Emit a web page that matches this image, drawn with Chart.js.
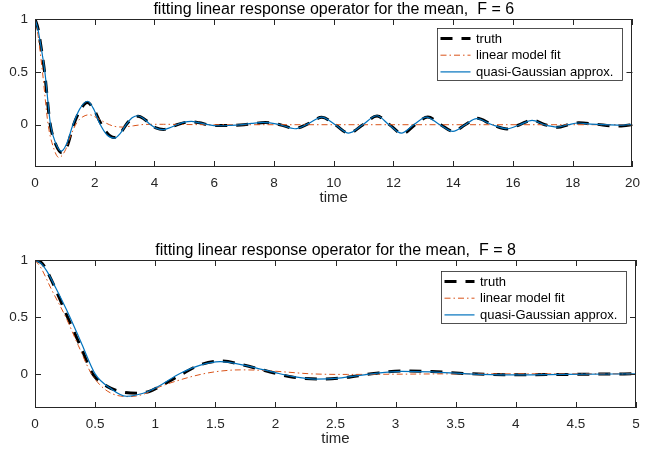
<!DOCTYPE html>
<html lang="en">
<head>
  <meta charset="UTF-8" />
  <title>Fitting linear response operator for the mean</title>
  <script src="https://cdn.jsdelivr.net/npm/chart.js"></script>
  <style>
    body {
      margin: 0;
      background: #fff;
    }
    .panel {
      position: absolute;
      left: 0;
      width: 648px;
    }
    #top { top: 0; height: 225px; }
    #bottom { top: 228px; height: 227px; }
  </style>
</head>
<body>
  <div class="panel" id="top"><canvas id="chartTop"></canvas></div>
  <div class="panel" id="bottom"><canvas id="chartBottom"></canvas></div>

  <script>
    // series names
    const seriesNames = ["truth", "linear model fit", "quasi-Gaussian approx."];

    // F = 6 panel, [time, value]
    const f6Truth = [[0,1],[0.1,0.91],[0.2,0.74],[0.32,0.5],[0.5,0.02],[0.7,-0.19],[0.9,-0.265],[1.08,-0.2],[1.28,-0.01],
      [1.5,0.13],[1.75,0.21],[1.98,0.14],[2.17,0.03],[2.42,-0.08],[2.65,-0.12],[2.85,-0.085],[3.05,0],[3.25,0.06],
      [3.45,0.08],[3.65,0.055],[3.87,0.005],[4.05,-0.03],[4.3,-0.045],[4.5,-0.03],[4.75,0],[5.0,0.02],[5.2,0.028],
      [5.5,0.018],[5.8,0],[6.2,-0.008],[6.6,-0.006],[7.0,0],[7.3,0.01],[7.7,0.02],[8.2,0],[8.7,-0.035],[9.15,0.01],
      [9.6,0.07],[10.05,0],[10.5,-0.08],[10.98,0],[11.45,0.082],[11.87,0],[12.3,-0.085],[12.72,0],[13.15,0.072],
      [13.58,0],[14.0,-0.063],[14.4,0],[14.8,0.06],[15.3,0],[15.8,-0.04],[16.22,0],[16.65,0.045],[17.07,0],
      [17.5,-0.025],[17.85,0],[18.2,0.018],[18.8,0.004],[19.4,-0.012],[19.7,-0.01],[20,0]];
    const f6Linear = [[0,1],[0.1,0.85],[0.25,0.5],[0.44,0],[0.6,-0.2],[0.8,-0.31],[1.0,-0.25],[1.2,-0.1],[1.4,0.02],
      [1.6,0.075],[1.82,0.094],[2.1,0.06],[2.4,0.012],[2.65,-0.015],[2.93,-0.022],[3.3,-0.01],[3.7,0.003],
      [4.3,0.004],[5,0.002],[6,0],[20,0]];
    const f6Quasi = [[0,1],[0.1,0.9],[0.2,0.74],[0.33,0.5],[0.52,0],[0.7,-0.18],[0.88,-0.25],[1.06,-0.18],[1.27,0],
      [1.5,0.15],[1.76,0.222],[1.98,0.14],[2.15,0.02],[2.42,-0.1],[2.67,-0.126],[2.86,-0.08],[3.05,0],[3.25,0.065],
      [3.44,0.085],[3.65,0.055],[3.87,0],[4.07,-0.035],[4.29,-0.047],[4.5,-0.03],[4.75,0],[5.0,0.024],[5.23,0.031],
      [5.5,0.018],[5.8,0],[6.1,-0.01],[6.5,-0.007],[6.85,-0.002],[7.25,0.012],[7.63,0.022],[8.2,0],[8.7,-0.038],
      [9.15,0.01],[9.6,0.072],[10.05,0],[10.5,-0.079],[10.97,0],[11.44,0.085],[11.85,0],[12.26,-0.079],[12.68,0],
      [13.1,0.072],[13.55,0],[13.99,-0.063],[14.4,0],[14.78,0.057],[15.3,0],[15.82,-0.038],[16.23,0],[16.64,0.041],
      [17.05,0],[17.47,-0.022],[17.85,0],[18.18,0.016],[18.6,0.006],[19.0,0],[19.5,-0.003],[20,0]];
    const f6XTicks = [0, 2, 4, 6, 8, 10, 12, 14, 16, 18, 20];
    const f6YTicks = [0, 0.5, 1];

    // F = 8 panel, [time, value]
    const f8Truth = [[0,1],[0.06,0.97],[0.125,0.85],[0.27,0.5],[0.38,0.24],[0.48,0],[0.6,-0.11],[0.71,-0.155],
      [0.85,-0.17],[0.95,-0.155],[1.04,-0.11],[1.21,-0.01],[1.37,0.078],[1.55,0.113],[1.73,0.078],[2.0,0.005],
      [2.15,-0.03],[2.35,-0.046],[2.55,-0.036],[2.8,0],[3.05,0.025],[3.3,0.02],[3.6,0.002],[3.9,-0.008],
      [4.3,-0.006],[4.7,-0.002],[5,0]];
    const f8Linear = [[0,1],[0.05,0.93],[0.133,0.75],[0.255,0.5],[0.36,0.25],[0.47,0],[0.6,-0.15],[0.78,-0.2],
      [0.9,-0.18],[1.01,-0.125],[1.21,-0.052],[1.4,0],[1.55,0.025],[1.71,0.035],[1.9,0.03],[2.1,0.015],[2.3,0],
      [2.6,-0.005],[3.0,-0.003],[3.5,0],[5,0]];
    const f8Quasi = [[0,1],[0.05,0.97],[0.1,0.9],[0.17,0.76],[0.29,0.5],[0.39,0.26],[0.5,0],[0.625,-0.125],
      [0.76,-0.197],[0.9,-0.17],[1.01,-0.12],[1.21,0.006],[1.37,0.075],[1.54,0.107],[1.79,0.064],[2.0,0.01],
      [2.15,-0.025],[2.33,-0.046],[2.55,-0.035],[2.8,0],[3.05,0.022],[3.3,0.017],[3.6,0],[3.95,-0.009],
      [4.4,-0.004],[5,0]];
    const f8XTicks = [0, 0.5, 1, 1.5, 2, 2.5, 3, 3.5, 4, 4.5, 5];
    const f8YTicks = [0, 0.5, 1];

    const FONT = "'Liberation Sans', Arial, Helvetica, sans-serif";
    const INK = "#262626";

    const toPoints = arr => arr.map(p => ({ x: p[0], y: p[1] }));

    // box + inward ticks on all four sides, matlab style
    const frameTicks = {
      id: "frameTicks",
      afterDatasetsDraw(chart) {
        const { ctx, chartArea: a, scales: { x, y } } = chart;
        ctx.save();
        ctx.strokeStyle = INK;
        ctx.lineWidth = 1;
        ctx.beginPath();
        x.ticks.forEach(t => {
          const px = Math.round(x.getPixelForValue(t.value)) + 0.5;
          ctx.moveTo(px, a.top); ctx.lineTo(px, a.top + 6);
          ctx.moveTo(px, a.bottom); ctx.lineTo(px, a.bottom - 6);
        });
        y.ticks.forEach(t => {
          const py = Math.round(y.getPixelForValue(t.value)) + 0.5;
          ctx.moveTo(a.left, py); ctx.lineTo(a.left + 6, py);
          ctx.moveTo(a.right, py); ctx.lineTo(a.right - 6, py);
        });
        ctx.stroke();
        ctx.strokeRect(Math.round(a.left) + 0.5, Math.round(a.top) + 0.5,
          Math.round(a.width) - 1, Math.round(a.height) - 1);
        ctx.restore();
      },
      afterDraw(chart, args, opts) {
        const { ctx, chartArea: a } = chart;
        ctx.save();
        // title
        ctx.fillStyle = "#000";
        ctx.font = "16px " + FONT;
        ctx.textAlign = "center";
        ctx.textBaseline = "alphabetic";
        ctx.fillText(opts.title, (a.left + a.right) / 2, a.top - 5);

        // legend box inside the axes, top right
        const w = 185, h = 52;
        const bx = Math.round(a.right - 10 - w) + 0.5;
        const by = Math.round(a.top + opts.legendTop) + 0.5;
        ctx.fillStyle = "#fff";
        ctx.fillRect(bx, by, w, h);
        ctx.strokeStyle = INK;
        ctx.lineWidth = 0.8;
        ctx.strokeRect(bx, by, w, h);
        ctx.font = "13px " + FONT;
        ctx.textAlign = "left";
        ctx.textBaseline = "middle";
        chart.data.datasets.forEach((ds, i) => {
          const ry = by + 10 + i * 16.7;
          ctx.strokeStyle = ds.borderColor;
          ctx.lineWidth = ds.borderWidth;
          ctx.setLineDash(ds.borderDash || []);
          ctx.beginPath();
          ctx.moveTo(bx + 3, ry);
          ctx.lineTo(bx + 33, ry);
          ctx.stroke();
          ctx.setLineDash([]);
          ctx.fillStyle = "#000";
          ctx.fillText(ds.label, bx + 38.5, ry + 0.5);
        });
        ctx.restore();
      }
    };

    function buildChart(canvasId, cfg) {
      const ctx = document.getElementById(canvasId).getContext("2d");
      return new Chart(ctx, {
        type: "line",
        data: {
          datasets: [
            {
              label: seriesNames[0],
              data: toPoints(cfg.truth),
              borderColor: "#000000",
              borderWidth: 3,
              borderDash: [12, 9],
              order: 3
            },
            {
              label: seriesNames[1],
              data: toPoints(cfg.linear),
              borderColor: "#D95319",
              borderWidth: 1,
              borderDash: [6, 3, 1.5, 3],
              order: 2
            },
            {
              label: seriesNames[2],
              data: toPoints(cfg.quasi),
              borderColor: "#0072BD",
              borderWidth: 1.2,
              order: 1
            }
          ]
        },
        options: {
          responsive: true,
          maintainAspectRatio: false,
          animation: false,
          parsing: false,
          elements: {
            point: { radius: 0 },
            line: { cubicInterpolationMode: "monotone", fill: false }
          },
          layout: { padding: cfg.padding },
          scales: {
            x: {
              type: "linear",
              min: cfg.xTicks[0],
              max: cfg.xTicks[cfg.xTicks.length - 1],
              grid: { display: false, drawTicks: false },
              border: { display: false },
              afterBuildTicks: s => { s.ticks = cfg.xTicks.map(v => ({ value: v })); },
              afterFit: s => { s.height = 40; },
              ticks: {
                color: INK,
                padding: 8,
                maxRotation: 0,
                font: { family: FONT, size: 13.5 },
                callback: v => String(v)
              },
              title: {
                display: true,
                text: "time",
                color: INK,
                padding: { top: 0, bottom: 0 },
                font: { family: FONT, size: 15 }
              }
            },
            y: {
              type: "linear",
              min: cfg.yMin,
              max: 1,
              grid: { display: false, drawTicks: false },
              border: { display: false },
              afterBuildTicks: s => { s.ticks = cfg.yTicks.map(v => ({ value: v })); },
              afterFit: s => { s.width = 35; },
              ticks: {
                color: INK,
                padding: 7,
                font: { family: FONT, size: 13.5 },
                callback: v => String(v)
              }
            }
          },
          plugins: {
            legend: { display: false },
            tooltip: { enabled: false },
            frameTicks: { title: cfg.title, legendTop: cfg.legendTop }
          }
        },
        plugins: [frameTicks]
      });
    }

    buildChart("chartTop", {
      truth: f6Truth, linear: f6Linear, quasi: f6Quasi,
      xTicks: f6XTicks, yTicks: f6YTicks, yMin: -0.4,
      title: "fitting linear response operator for the mean,  F = 6",
      legendTop: 9,
      padding: { top: 19, left: 0, right: 6, bottom: 18 }
    });

    buildChart("chartBottom", {
      truth: f8Truth, linear: f8Linear, quasi: f8Quasi,
      xTicks: f8XTicks, yTicks: f8YTicks, yMin: -0.3,
      title: "fitting linear response operator for the mean,  F = 8",
      legendTop: 11,
      padding: { top: 32, left: 0, right: 12, bottom: 7 }
    });
  </script>
</body>
</html>
